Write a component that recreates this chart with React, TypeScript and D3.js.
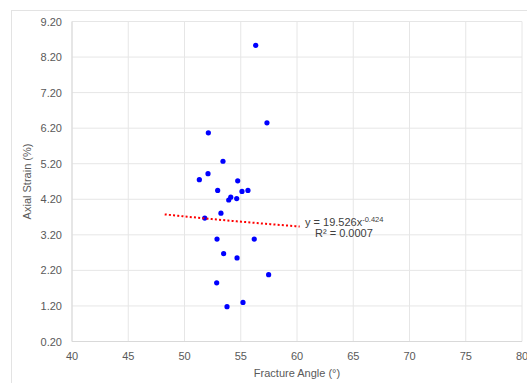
import React from 'react';
import * as d3 from 'd3';

// Fracture angle (deg) vs axial strain (%)
const fractureAngle = [56.33, 57.33, 52.12, 53.42, 52.09, 51.32, 54.73, 52.95, 55.11, 55.64, 54.11, 53.93, 54.64, 53.24, 51.8, 52.89, 56.2, 53.48, 54.67, 57.48, 52.86, 53.78, 55.2];
const axialStrain = [8.53, 6.35, 6.07, 5.27, 4.92, 4.75, 4.72, 4.45, 4.42, 4.45, 4.26, 4.18, 4.22, 3.81, 3.67, 3.08, 3.08, 2.67, 2.55, 2.08, 1.85, 1.18, 1.3];

const xTicks = [40, 45, 50, 55, 60, 65, 70, 75, 80];
const yTicks = [0.2, 1.2, 2.2, 3.2, 4.2, 5.2, 6.2, 7.2, 8.2, 9.2];

// power trendline y = a * x^b
const trendA = 19.526;
const trendB = -0.424;
const trendRange = [48.24, 60.4];

const font = 'Liberation Sans, Arial, Helvetica, sans-serif';

export default function App() {
  const left = 72;
  const right = 522;
  const top = 21.5;
  const bottom = 341.5;

  const x = d3.scaleLinear().domain([40, 80]).range([left, right]);
  const y = d3.scaleLinear().domain([0.2, 9.2]).range([bottom, top]);

  const trendX = d3.range(trendRange[0], trendRange[1] + 0.001, 0.2);
  const trendLine = d3.line<number>()
    .x(d => x(d))
    .y(d => y(trendA * Math.pow(d, trendB)));

  const points = fractureAngle.map((a, i) => ({ a, s: axialStrain[i] }));

  return (
    <svg width={527} height={383} style={{ position: 'absolute', left: 0, top: 0, background: '#fff' }}>
      <rect x={11.5} y={10.5} width={540} height={390} fill="#fff" stroke="#e3e3e3" />

      {/* gridlines */}
      {yTicks.map(t => (
        <line key={'gy' + t} x1={left} x2={right} y1={y(t)} y2={y(t)} stroke="#e6e6e6" strokeWidth={1} />
      ))}
      {xTicks.map(t => (
        <line key={'gx' + t} x1={x(t)} x2={x(t)} y1={top} y2={bottom} stroke="#e6e6e6" strokeWidth={1} />
      ))}
      <line x1={left} x2={left} y1={top} y2={bottom} stroke="#d9d9d9" />
      <line x1={left} x2={right} y1={bottom} y2={bottom} stroke="#d9d9d9" />

      {/* tick labels */}
      {yTicks.map(t => (
        <text key={'ty' + t} x={62} y={y(t) + 4} textAnchor="end" fontFamily={font} fontSize={11} fill="#595959">
          {t.toFixed(2)}
        </text>
      ))}
      {xTicks.map(t => (
        <text key={'tx' + t} x={x(t)} y={360} textAnchor="middle" fontFamily={font} fontSize={11} fill="#595959">
          {t}
        </text>
      ))}

      {/* axis titles */}
      <text x={(left + right) / 2} y={377} textAnchor="middle" fontFamily={font} fontSize={11} fill="#595959">
        Fracture Angle (°)
      </text>
      <text transform={`translate(31,${(top + bottom) / 2}) rotate(-90)`} textAnchor="middle" fontFamily={font} fontSize={11} fill="#595959">
        Axial Strain (%)
      </text>

      {/* points */}
      {points.map((p, i) => (
        <circle key={i} cx={x(p.a)} cy={y(p.s)} r={2.6} fill="#0000ff" />
      ))}

      {/* trendline */}
      <path d={trendLine(trendX) || ''} fill="none" stroke="#ff0000" strokeWidth={2} strokeDasharray="2 2.2" />

      <text x={305} y={226} fontFamily={font} fontSize={11} fill="#404040">
        y = 19.526x<tspan dy={-4} fontSize={7.5}>-0.424</tspan>
      </text>
      <text x={315} y={237} fontFamily={font} fontSize={11} fill="#404040">
        R² = 0.0007
      </text>
    </svg>
  );
}
